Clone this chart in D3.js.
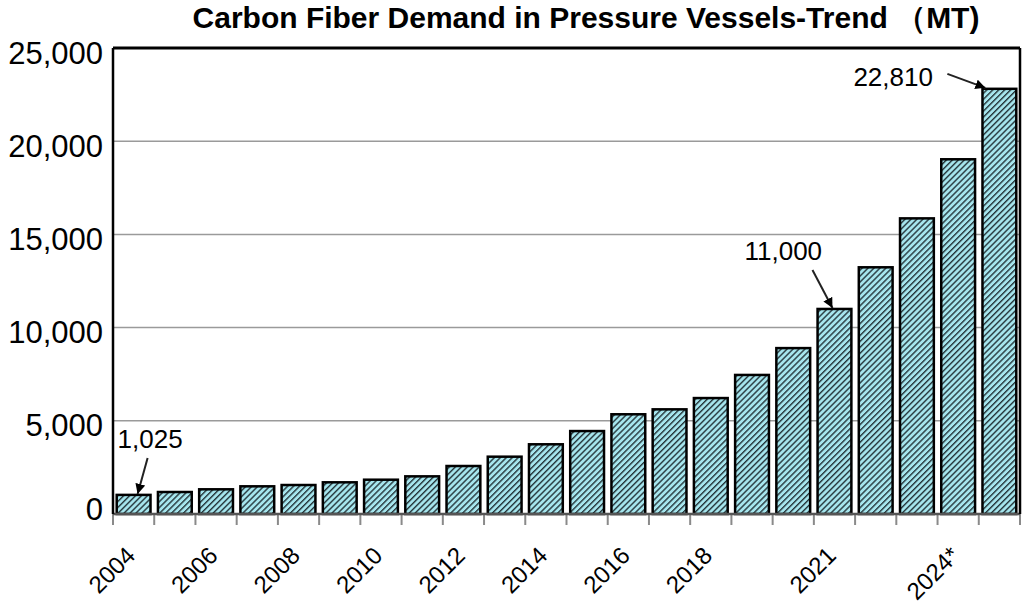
<!DOCTYPE html>
<html>
<head>
  <meta charset="UTF-8">
  <title>Carbon Fiber Demand in Pressure Vessels</title>
  <script src="https://d3js.org/d3.v7.min.js"></script>
  <style>
    body {
      margin: 0;
      background: #fff;
      font-family: "Liberation Sans", Arial, sans-serif;
    }
    svg {
      display: block;
    }
    .title {
      font-size: 30px;
      font-weight: bold;
      text-anchor: middle;
    }
    .ylab {
      font-size: 31px;
      text-anchor: end;
    }
    .xlab {
      font-size: 24px;
      text-anchor: end;
    }
    .note {
      font-size: 26px;
    }
  </style>
</head>
<body>

  <svg width="1027" height="607"></svg>

  <script>
    // years on the category axis (2004 .. 2025)
    const years = ["2004", "2005", "2006", "2007", "2008", "2009", "2010", "2011",
                   "2012", "2013", "2014", "2015", "2016", "2017", "2018", "2019",
                   "2020", "2021", "2022", "2023", "2024", "2025"];
    // demand in metric tons
    const demand = [1025, 1180, 1325, 1485, 1555, 1700, 1840, 2020,
                    2575, 3075, 3740, 4450, 5350, 5615, 6220, 7460,
                    8900, 11000, 13235, 15860, 19030, 22810];
    // which years get a text label under the axis, and what it says
    const tickYears = ["2004", "2006", "2008", "2010", "2012", "2014", "2016", "2018", "2021", "2024"];
    const tickText  = ["2004", "2006", "2008", "2010", "2012", "2014", "2016", "2018", "2021", "2024*"];
    const yTicks = [0, 5000, 10000, 15000, 20000, 25000];
    // bars with a value call-out
    const noteYears = ["2004", "2021", "2025"];
    const noteText  = ["1,025", "11,000", "22,810"];

    const svg = d3.select("svg");
    const margin = { top: 48, right: 7, bottom: 93, left: 113 };
    const w = +svg.attr("width") - margin.left - margin.right;
    const h = +svg.attr("height") - margin.top - margin.bottom;

    // hatch fill for the bars
    const defs = svg.append("defs");
    const pat = defs.append("pattern")
      .attr("id", "hatch")
      .attr("patternUnits", "userSpaceOnUse")
      .attr("width", 4.2)
      .attr("height", 4.2)
      .attr("patternTransform", "rotate(45)");
    pat.append("rect").attr("width", 4.2).attr("height", 4.2).attr("fill", "#a6e6ee");
    pat.append("rect").attr("width", 1.4).attr("height", 4.2).attr("fill", "#25363b");

    defs.append("marker")
      .attr("id", "head")
      .attr("viewBox", "0 0 10 10")
      .attr("refX", 10).attr("refY", 5)
      .attr("markerWidth", 5).attr("markerHeight", 5)
      .attr("markerUnits", "strokeWidth")
      .attr("orient", "auto")
      .append("path")
      .attr("d", "M0,0 L10,5 L0,10 z")
      .attr("fill", "#000");

    svg.append("text")
      .attr("class", "title")
      .attr("x", 586)
      .attr("y", 28)
      .text("Carbon Fiber Demand in Pressure Vessels-Trend （MT)");

    const g = svg.append("g").attr("transform", `translate(${margin.left},${margin.top})`);

    const x = d3.scaleBand()
      .domain(years)
      .range([0, w])
      .paddingInner(0.18)
      .paddingOuter(0.09);

    const y = d3.scaleLinear()
      .domain([0, 25000])
      .range([h, 0]);

    // gridlines
    g.selectAll(".grid")
      .data(yTicks.filter(d => d > 0 && d < 25000))
      .enter()
      .append("line")
      .attr("x1", 0).attr("x2", w)
      .attr("y1", d => y(d)).attr("y2", d => y(d))
      .attr("stroke", "#9a9a9a")
      .attr("stroke-width", 1.5);

    // y labels
    g.selectAll(".ylab")
      .data(yTicks)
      .enter()
      .append("text")
      .attr("class", "ylab")
      .attr("x", -10)
      .attr("y", d => y(d))
      .attr("dy", d => d === 0 ? "0.2em" : "0.5em")
      .text(d => d3.format(",")(d));

    // bars
    g.selectAll(".bar")
      .data(years)
      .enter()
      .append("rect")
      .attr("class", "bar")
      .attr("x", d => x(d))
      .attr("y", (d, i) => y(demand[i]))
      .attr("width", x.bandwidth())
      .attr("height", (d, i) => h - y(demand[i]))
      .attr("fill", "url(#hatch)")
      .attr("stroke", "#000")
      .attr("stroke-width", 2.5);

    // bottom axis: ticks at band edges
    const step = x.step();
    g.selectAll(".tick")
      .data(d3.range(years.length + 1))
      .enter()
      .append("line")
      .attr("x1", i => i * step).attr("x2", i => i * step)
      .attr("y1", h).attr("y2", h + 11)
      .attr("stroke", "#8a8a8a")
      .attr("stroke-width", 2);

    g.append("line")
      .attr("x1", 0).attr("x2", w)
      .attr("y1", h).attr("y2", h)
      .attr("stroke", "#555")
      .attr("stroke-width", 2.5);

    g.selectAll(".xlab")
      .data(tickYears)
      .enter()
      .append("text")
      .attr("class", "xlab")
      .attr("transform", d => `translate(${x(d) + x.bandwidth() / 2 + 3},${h + 43}) rotate(-45)`)
      .text((d, i) => tickText[i]);

    // frame: left axis, top and right border
    g.append("line").attr("x1", 0).attr("x2", 0).attr("y1", 0).attr("y2", h)
      .attr("stroke", "#000").attr("stroke-width", 2.5);
    g.append("line").attr("x1", 0).attr("x2", w).attr("y1", 0).attr("y2", 0)
      .attr("stroke", "#000").attr("stroke-width", 3);
    g.append("line").attr("x1", w).attr("x2", w).attr("y1", 0).attr("y2", h)
      .attr("stroke", "#000").attr("stroke-width", 2.5);

    // call-outs: text offset and arrow start relative to the bar top
    const noteOff = [
      { tx: -20, ty: -46, ax: 10, ay: -36, hx: 4 },
      { tx: -88, ty: -48, ax: -20, ay: -38, hx: -2 },
      { tx: -132, ty: -2, ax: -38, ay: -14, hx: -14 }
    ];
    noteYears.forEach((yr, k) => {
      const v = demand[years.indexOf(yr)];
      const bx = x(yr) + x.bandwidth() / 2 + noteOff[k].hx;
      const by = y(v) - 1;
      g.append("text")
        .attr("class", "note")
        .attr("x", bx + noteOff[k].tx)
        .attr("y", by + noteOff[k].ty)
        .text(noteText[k]);
      g.append("line")
        .attr("x1", bx + noteOff[k].ax)
        .attr("y1", by + noteOff[k].ay)
        .attr("x2", bx)
        .attr("y2", by)
        .attr("stroke", "#222")
        .attr("stroke-width", 2)
        .attr("marker-end", "url(#head)");
    });
  </script>

</body>
</html>
